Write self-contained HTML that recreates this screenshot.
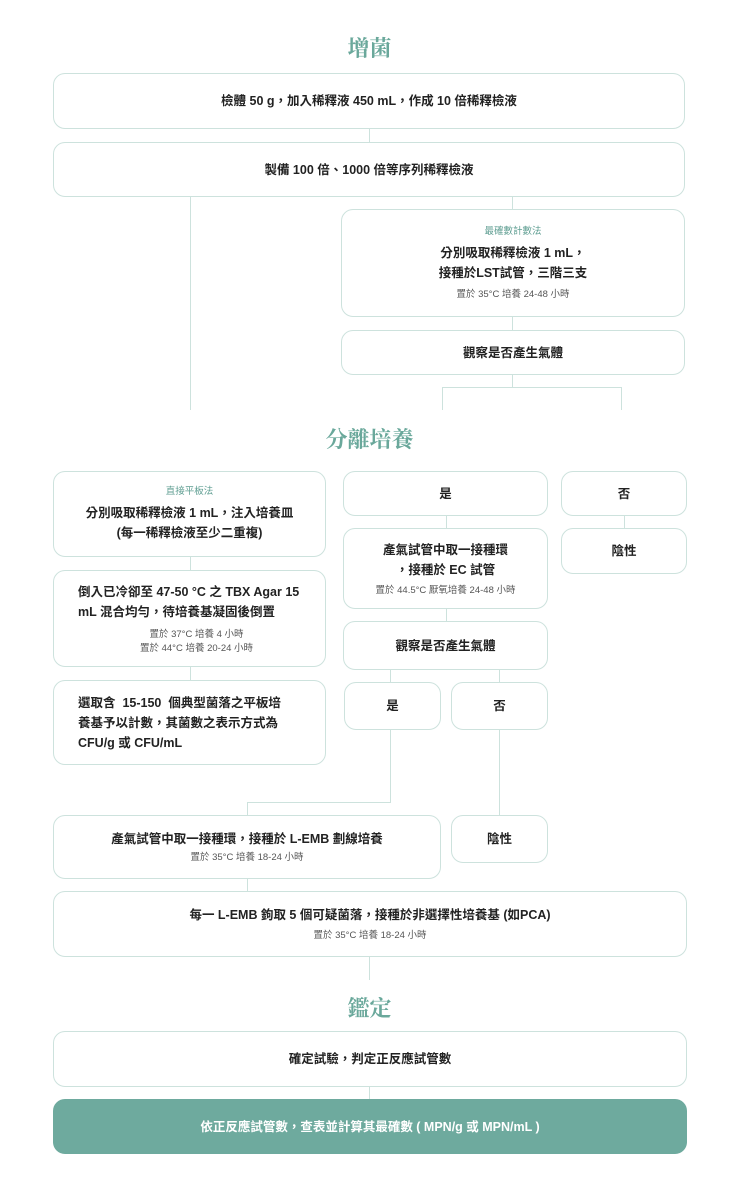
<!DOCTYPE html>
<html><head><meta charset="utf-8"><style>
body{margin:0;width:739px;height:1200px;background:#fff;position:relative;overflow:hidden;font-family:"Liberation Sans","Noto Sans CJK TC",sans-serif;color:#222}
.b{position:absolute;box-sizing:border-box;border:1px solid #cde2dd;border-radius:12px;display:flex;flex-direction:column;justify-content:center;align-items:center;text-align:center;font-size:12.5px;font-weight:bold;line-height:20px}
.l{text-align:left;align-items:flex-start;padding-left:24px;padding-right:10px}
.s{font-size:9.5px;font-weight:normal;color:#555;line-height:14px}
.t{font-size:9.5px;font-weight:normal;color:#5f9e92;line-height:14px;margin-bottom:4px}
.h{position:absolute;left:0;width:739px;text-align:center;font-family:"Noto Serif CJK SC","Liberation Serif",serif;font-weight:bold;font-size:22px;color:#6aa89b}
.v{position:absolute;width:1px;background:#cde2dd}
.z{position:absolute;height:1px;background:#cde2dd}
</style></head><body>
<div class="h" style="top:32px">增菌</div>
<div class="h" style="top:423px">分離培養</div>
<div class="h" style="top:992px">鑑定</div>

<div class="v" style="left:369px;top:129px;height:13px"></div>
<div class="v" style="left:190px;top:197px;height:213px"></div>
<div class="v" style="left:512px;top:197px;height:12px"></div>
<div class="v" style="left:512px;top:317px;height:13px"></div>
<div class="v" style="left:512px;top:375px;height:12px"></div>
<div class="z" style="left:442px;top:387px;width:180px"></div>
<div class="v" style="left:442px;top:387px;height:23px"></div>
<div class="v" style="left:621px;top:387px;height:23px"></div>

<div class="v" style="left:190px;top:557px;height:13px"></div>
<div class="v" style="left:190px;top:667px;height:13px"></div>
<div class="v" style="left:446px;top:516px;height:12px"></div>
<div class="v" style="left:446px;top:609px;height:12px"></div>
<div class="v" style="left:624px;top:516px;height:12px"></div>
<div class="v" style="left:390px;top:670px;height:12px"></div>
<div class="v" style="left:499px;top:670px;height:12px"></div>
<div class="v" style="left:390px;top:730px;height:72px"></div>
<div class="z" style="left:247px;top:802px;width:144px"></div>
<div class="v" style="left:247px;top:802px;height:13px"></div>
<div class="v" style="left:499px;top:730px;height:85px"></div>
<div class="v" style="left:247px;top:879px;height:12px"></div>
<div class="v" style="left:369px;top:957px;height:23px"></div>
<div class="v" style="left:369px;top:1087px;height:12px"></div>

<div class="b" style="left:53px;top:73px;width:632px;height:56px">檢體 50 g，加入稀釋液 450 mL，作成 10 倍稀釋檢液</div>
<div class="b" style="left:53px;top:142px;width:632px;height:55px">製備 100 倍、1000 倍等序列稀釋檢液</div>
<div class="b" style="left:341px;top:209px;width:344px;height:108px"><div class="t">最確數計數法</div><div>分別吸取稀釋檢液 1 mL，<br>接種於LST試管，三階三支</div><div class="s" style="margin-top:5px">置於 35°C 培養 24-48 小時</div></div>
<div class="b" style="left:341px;top:330px;width:344px;height:45px">觀察是否產生氣體</div>

<div class="b" style="left:53px;top:471px;width:273px;height:86px"><div class="t">直接平板法</div><div>分別吸取稀釋檢液 1 mL，注入培養皿<br>(每一稀釋檢液至少二重複)</div></div>
<div class="b l" style="left:53px;top:570px;width:273px;height:97px"><div>倒入已冷卻至 47-50 °C 之 TBX Agar 15<br>mL 混合均勻，待培養基凝固後倒置</div><div class="s" style="align-self:center;margin-top:6px;text-align:center">置於 37°C 培養 4 小時<br>置於 44°C 培養 20-24 小時</div></div>
<div class="b l" style="left:53px;top:680px;width:273px;height:85px;justify-content:flex-start;padding-top:12px">選取含&nbsp; 15-150&nbsp; 個典型菌落之平板培<br>養基予以計數，其菌數之表示方式為<br>CFU/g 或 CFU/mL</div>

<div class="b" style="left:343px;top:471px;width:205px;height:45px">是</div>
<div class="b" style="left:561px;top:471px;width:126px;height:45px">否</div>
<div class="b" style="left:343px;top:528px;width:205px;height:81px"><div>產氣試管中取一接種環<br>，接種於 EC 試管</div><div class="s" style="margin-top:4px">置於 44.5°C 厭氧培養 24-48 小時</div></div>
<div class="b" style="left:561px;top:528px;width:126px;height:46px">陰性</div>
<div class="b" style="left:343px;top:621px;width:205px;height:49px">觀察是否產生氣體</div>
<div class="b" style="left:344px;top:682px;width:97px;height:48px">是</div>
<div class="b" style="left:451px;top:682px;width:97px;height:48px">否</div>

<div class="b" style="left:53px;top:815px;width:388px;height:64px"><div>產氣試管中取一接種環，接種於 L-EMB 劃線培養</div><div class="s" style="margin-top:2px">置於 35°C 培養 18-24 小時</div></div>
<div class="b" style="left:451px;top:815px;width:97px;height:48px">陰性</div>
<div class="b" style="left:53px;top:891px;width:634px;height:66px"><div>每一 L-EMB 鉤取 5 個可疑菌落，接種於非選擇性培養基 (如PCA)</div><div class="s" style="margin-top:4px">置於 35°C 培養 18-24 小時</div></div>

<div class="b" style="left:53px;top:1031px;width:634px;height:56px">確定試驗，判定正反應試管數</div>
<div class="b" style="left:53px;top:1099px;width:634px;height:55px;background:#6eaa9e;border-color:#6eaa9e;color:#fff">依正反應試管數，查表並計算其最確數 ( MPN/g 或 MPN/mL )</div>
</body></html>
